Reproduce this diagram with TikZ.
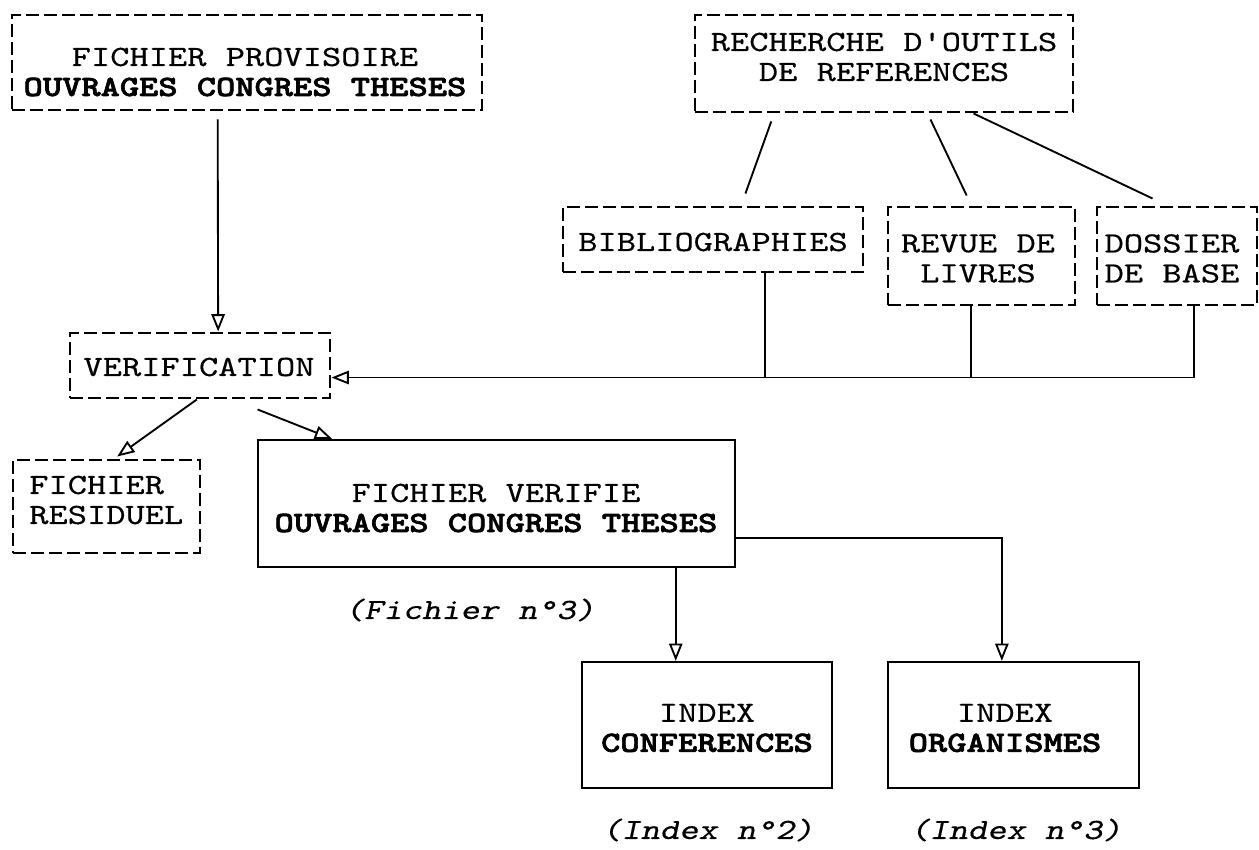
\documentclass[tikz,border=0pt]{standalone}
\usetikzlibrary{arrows.meta,calc}
\font\tfn="[lmmono10-regular]:extend=1.25;embolden=0.4" at 22pt
\font\tfb="[lmmonolt10-bold]:extend=1.25;embolden=2.2" at 22pt
\font\tfi="[lmmonoslant10-regular]:extend=1.25;embolden=0.4" at 22pt
\begin{document}
\begin{tikzpicture}[x=0.75pt,y=-0.75pt,
  dbox/.style={draw, line width=2.2pt, dash pattern=on 9.5pt off 4pt, inner sep=0pt},
  sbox/.style={draw, line width=1.7pt, inner sep=0pt},
  txt/.style={font={\tfn\baselineskip=22.5pt}, align=center, inner sep=0pt},
  itxt/.style={font=\tfi, inner sep=0pt},
  conn/.style={line width=1.4pt},
  arr/.style={line width=1.4pt, -{Triangle[open,length=13pt,width=10pt,line width=1.4pt]}}]
\useasboundingbox (0,0) rectangle (1259,849);

% boxes
\node[dbox, minimum width=352.5pt, minimum height=71.25pt] (A) at (247,62.5) {};
\node[dbox, minimum width=283.5pt, minimum height=72.75pt] (B) at (884,63.5) {};
\node[dbox, minimum width=225pt, minimum height=48.75pt] (C) at (713,239.5) {};
\node[dbox, minimum width=140.25pt, minimum height=73.5pt] (D) at (981.5,256) {};
\node[dbox, minimum width=120pt, minimum height=73.5pt] (E) at (1177,256) {};
\node[dbox, minimum width=195pt, minimum height=48.75pt] (V) at (200,365.5) {};
\node[dbox, minimum width=140.25pt, minimum height=69.75pt] (R) at (106.5,506.5) {};
\node[sbox, minimum width=357.75pt, minimum height=95.25pt] (FV) at (496.5,503.5) {};
\node[sbox, minimum width=187.5pt, minimum height=94.5pt] (IC) at (707,725) {};
\node[sbox, minimum width=188.25pt, minimum height=94.5pt] (IO) at (1013.5,725) {};

% texts
\node[txt] (At) at (245,72) {FICHIER PROVISOIRE\\{\tfb OUVRAGES CONGRES THESES}};
\node[txt] (Bt) at (884,57) {RECHERCHE D'OUTILS\\DE REFERENCES};
\node[txt] (Ct) at (713,242) {BIBLIOGRAPHIES};
\node[txt] (Dt) at (978,258.5) {REVUE DE\\LIVRES};
\node[txt, align=left] (Et) at (1172,258.5) {DOSSIER\\DE BASE};
\node[txt] (Vt) at (199,367) {VERIFICATION};
\node[txt, align=left, anchor=west] (Rt) at (29,500) {FICHIER\\RESIDUEL};
\node[txt] (FVt) at (496,508) {FICHIER VERIFIE\\{\tfb OUVRAGES CONGRES THESES}};
\node[txt] (ICt) at (707,728) {INDEX\\{\tfb CONFERENCES}};
\node[txt] (IOt) at (1005,728) {INDEX\\{\tfb ORGANISMES}};
\node[itxt] (L1) at (470,610) {(Fichier n°3)};
\node[itxt] (L2) at (708,830) {(Index n°2)};
\node[itxt] (L3) at (1016,830) {(Index n°3)};

% connectors
\draw[arr] ($(A.south west)!0.438!(A.south east)+(0,8)$) -- ($(V.north west)!0.569!(V.north east)$);

\draw[conn] ($(B.south west)!0.204!(B.south east)+(0,8)$) -- ($(C.north west)!0.607!(C.north east)+(0,-12)$);
\draw[conn] ($(B.south west)!0.622!(B.south east)+(0,6)$) -- ($(D.north west)!0.422!(D.north east)+(0,-10)$);
\draw[conn] ($(B.south west)!0.735!(B.south east)$) -- ($(E.north west)!0.35!(E.north east)+(0,-7)$);

\coordinate (Vr) at ($(V.north east)!0.677!(V.south east)$);
\coordinate (Cb) at ($(C.south west)!0.673!(C.south east)$);
\coordinate (Db) at ($(D.south west)!0.444!(D.south east)$);
\coordinate (Eb) at ($(E.south west)!0.606!(E.south east)$);
\draw[arr] (Eb) |- (Vr);
\draw[conn] (Cb) -- (Cb |- Vr);
\draw[conn] (Db) -- (Db |- Vr);

\draw[arr] ($(V.south west)!0.488!(V.south east)$) -- ($(R.north west)!0.556!(R.north east)+(0,-2)$);
\draw[arr] ($(V.south west)!0.719!(V.south east)+(0,10)$) -- ($(FV.north west)!0.157!(FV.north east)$);

\coordinate (FVb) at ($(FV.south west)!0.874!(FV.south east)$);
\draw[arr] (FVb) -- (FVb |- IC.north);
\coordinate (FVr) at ($(FV.north east)!0.764!(FV.south east)$);
\coordinate (IOn) at ($(IO.north west)!0.454!(IO.north east)$);
\draw[arr] (FVr) -| (IOn);
\end{tikzpicture}
\end{document}
